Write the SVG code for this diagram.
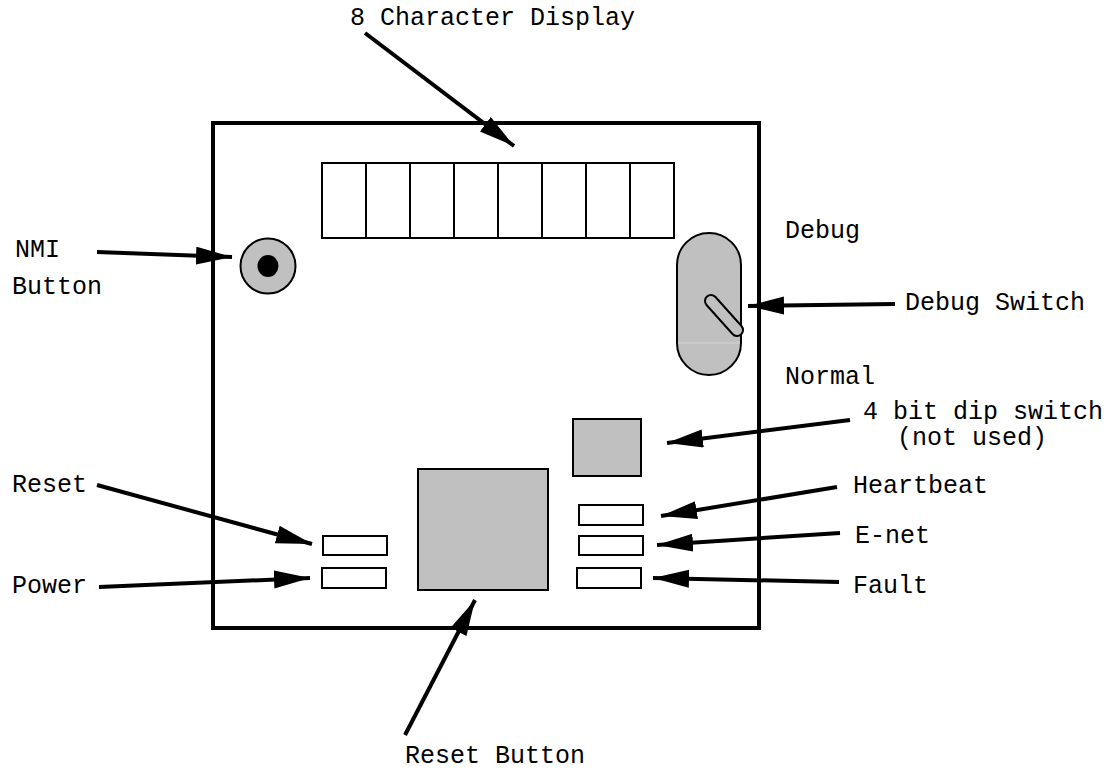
<svg xmlns="http://www.w3.org/2000/svg" width="1112" height="770" viewBox="0 0 1112 770">
<style>
.lbl{font-family:"Liberation Mono","Courier New",monospace;font-size:25px;fill:#000}
.box{fill:#fff;stroke:#000;stroke-width:2}
.gray{fill:#c0c0c0;stroke:#000;stroke-width:2}
.arr{stroke:#000;stroke-width:4;fill:none;marker-end:url(#ah)}
</style>
<defs>
<marker id="ah" markerUnits="userSpaceOnUse" markerWidth="38" markerHeight="20" refX="36" refY="9" orient="auto">
<path d="M0,0 L36,9 L0,18 z" fill="#000"/>
</marker>
</defs>
<rect width="1112" height="770" fill="#fff"/>
<g id="board"><rect x="213" y="123" width="546" height="505" fill="none" stroke="#000" stroke-width="4"/></g>
<g id="display">
<rect class="box" x="322" y="163" width="352" height="75"/>
<path d="M366,163V238M410,163V238M454,163V238M498,163V238M542,163V238M586,163V238M630,163V238" stroke="#000" stroke-width="2"/>
</g>
<g id="nmi-button">
<circle class="gray" cx="268" cy="266" r="27.5"/>
<ellipse cx="268" cy="266" rx="10.5" ry="11" fill="#000"/>
</g>
<g id="debug-switch">
<rect class="gray" x="677" y="233" width="64" height="142" rx="32" ry="32"/>
<line x1="678" y1="343" x2="740" y2="343" stroke="#d6d6d6" stroke-width="1"/>
<line x1="711" y1="301" x2="737" y2="330" stroke="#000" stroke-width="14" stroke-linecap="round"/>
<line x1="711" y1="301" x2="737" y2="330" stroke="#c0c0c0" stroke-width="10" stroke-linecap="round"/>
</g>
<g id="dip-switch"><rect class="gray" x="573" y="419" width="68" height="57"/></g>
<g id="reset-button"><rect class="gray" x="418" y="469" width="130" height="121"/></g>
<g id="led-reset"><rect class="box" x="323" y="536" width="64" height="19"/></g>
<g id="led-power"><rect class="box" x="322" y="568" width="64" height="20"/></g>
<g id="led-heartbeat"><rect class="box" x="579" y="505" width="64" height="20"/></g>
<g id="led-enet"><rect class="box" x="579" y="536" width="64" height="19"/></g>
<g id="led-fault"><rect class="box" x="577" y="568" width="64" height="20"/></g>
<g id="connectors">
<line class="arr" x1="365" y1="33" x2="514" y2="146"/>
<line class="arr" x1="97" y1="252" x2="232" y2="257"/>
<line class="arr" x1="895" y1="304" x2="748" y2="306"/>
<line class="arr" x1="850" y1="420" x2="667" y2="443"/>
<line class="arr" x1="837" y1="487" x2="661" y2="516"/>
<line class="arr" x1="840" y1="533" x2="657" y2="545"/>
<line class="arr" x1="839" y1="582" x2="653" y2="578"/>
<line class="arr" x1="97" y1="485" x2="312" y2="544"/>
<line class="arr" x1="99" y1="587" x2="310" y2="578"/>
<line class="arr" x1="405" y1="735" x2="475" y2="600"/>
</g>
<g id="labels">
<text class="lbl" x="350" y="25">8 Character Display</text>
<text class="lbl" x="15" y="257">NMI</text>
<text class="lbl" x="12" y="294">Button</text>
<text class="lbl" x="785" y="238">Debug</text>
<text class="lbl" x="905" y="310">Debug Switch</text>
<text class="lbl" x="785" y="384">Normal</text>
<text class="lbl" x="863" y="419">4 bit dip switch</text>
<text class="lbl" x="897" y="445">(not used)</text>
<text class="lbl" x="853" y="493">Heartbeat</text>
<text class="lbl" x="855" y="543">E-net</text>
<text class="lbl" x="853" y="593">Fault</text>
<text class="lbl" x="12" y="492">Reset</text>
<text class="lbl" x="12" y="593">Power</text>
<text class="lbl" x="405" y="763">Reset Button</text>
</g>
</svg>
